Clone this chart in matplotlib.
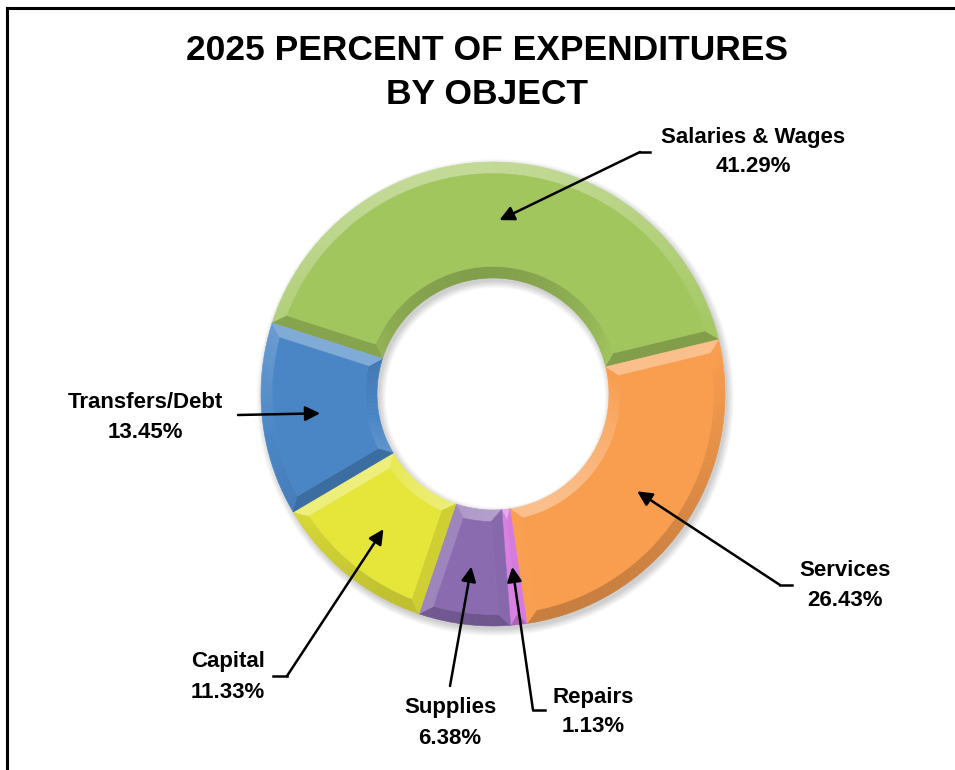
import numpy as np
import matplotlib.pyplot as plt
from matplotlib.collections import PolyCollection
from matplotlib.lines import Line2D
from matplotlib.colors import to_rgb

W, H = 955, 770

categories = ["Salaries & Wages", "Services", "Repairs", "Supplies", "Capital", "Transfers/Debt"]
percents = [41.29, 26.43, 1.13, 6.38, 11.33, 13.45]
colors = ["#A2C65E", "#F99D4E", "#D77BE0", "#8A6BB0", "#E6E63A", "#4A86C6"]

# label centre (x, first line y), arrow start and elbow, in pixels from top-left
label_pos = [(753, 137), (845, 570), (593, 697), (450, 708), (228, 662), (145, 403)]
arrow_from = [(650, 152), (792, 585), (545, 710), (450, 686), (273, 676), (238, 415)]
arrow_elbow = [(640, 152), (780, 585), (533, 710), None, (287, 676), None]

START = 162.2
R_OUT, R_IN, BEVEL = 1.0, 0.5, 0.05
LIGHT = np.array([-0.2, 1.0]) / np.hypot(0.2, 1.0)


def px(x, y):
    return x / W, 1 - y / H


def pt(rho, a):
    return [rho * np.cos(a), rho * np.sin(a)]


def shade(base, normal):
    f = float(np.dot(normal, LIGHT))
    base = np.array(base)
    if f > 0:
        return tuple(base + (1 - base) * 0.35 * f)
    return tuple(base * (1 + 0.2 * f))


def bevel_wedge(ax, t_lo, t_hi, color):
    base = to_rgb(color)
    ro, ri = R_OUT - BEVEL, R_IN + BEVEL
    half = (t_hi - t_lo) / 2
    do = min(np.arcsin(BEVEL / ro), half)
    di = min(np.arcsin(BEVEL / ri), half)
    polys, cols = [], []
    n = max(int(np.degrees(t_hi - t_lo) / 2), 2)
    a = np.linspace(t_lo, t_hi, n + 1)
    fo = np.linspace(t_lo + do, t_hi - do, n + 1)
    fi = np.linspace(t_lo + di, t_hi - di, n + 1)
    for k in range(n):
        mid = (a[k] + a[k + 1]) / 2
        nrm = np.array([np.cos(mid), np.sin(mid)])
        polys.append([pt(R_OUT, a[k]), pt(R_OUT, a[k + 1]), pt(ro, fo[k + 1]), pt(ro, fo[k])])
        cols.append(shade(base, nrm))
        polys.append([pt(R_IN, a[k]), pt(R_IN, a[k + 1]), pt(ri, fi[k + 1]), pt(ri, fi[k])])
        cols.append(shade(base, -nrm))
    polys.append([pt(R_OUT, t_lo), pt(ro, t_lo + do), pt(ri, t_lo + di), pt(R_IN, t_lo)])
    cols.append(shade(base, np.array([np.sin(t_lo), -np.cos(t_lo)])))
    polys.append([pt(R_OUT, t_hi), pt(ro, t_hi - do), pt(ri, t_hi - di), pt(R_IN, t_hi)])
    cols.append(shade(base, np.array([-np.sin(t_hi), np.cos(t_hi)])))
    face = [pt(ro, t) for t in fo] + [pt(ri, t) for t in fi[::-1]]
    polys.append(face)
    cols.append(base)
    ax.add_collection(PolyCollection(polys, facecolors=cols, edgecolors=cols, linewidths=0.4))


fig = plt.figure(figsize=(W / 100, H / 100), dpi=100)
plt.rcParams["font.family"] = ["Liberation Sans", "DejaVu Sans"]

cx, cy, rad = 493, 394, 232
half_px = rad * 1.1
ax = fig.add_axes([(cx - half_px) / W, (H - cy - half_px) / H, 2 * half_px / W, 2 * half_px / H])
ax.set_xlim(-1.1, 1.1)
ax.set_ylim(-1.1, 1.1)
ax.set_aspect("equal")
ax.axis("off")

# soft shadow under the ring
ring_t = np.linspace(0, 2 * np.pi, 300)
for i in range(8):
    s = 0.004 * i
    ax.fill(np.r_[(R_OUT + s) * np.cos(ring_t), (R_IN - s) * np.cos(ring_t[::-1])] + 0.01,
            np.r_[(R_OUT + s) * np.sin(ring_t), (R_IN - s) * np.sin(ring_t[::-1])] - 0.015,
            color="black", alpha=0.025, lw=0)

bounds = START - np.r_[0, np.cumsum(percents)] * 3.6
mids = []
for i, c in enumerate(colors):
    t_hi, t_lo = np.radians(bounds[i]), np.radians(bounds[i + 1])
    bevel_wedge(ax, t_lo, t_hi, c)
    mids.append((t_lo + t_hi) / 2)

for i, name in enumerate(categories):
    m = mids[i]
    tip = (0.75 * np.cos(m), 0.75 * np.sin(m))
    start = arrow_elbow[i] if arrow_elbow[i] else arrow_from[i]
    if arrow_elbow[i]:
        x0, y0 = px(*arrow_from[i])
        x1, y1 = px(*arrow_elbow[i])
        fig.add_artist(Line2D([x0, x1], [y0, y1], transform=fig.transFigure, color="black", lw=1.8))
    ax.annotate("", xy=tip, xycoords="data",
                xytext=px(*start), textcoords="figure fraction",
                arrowprops=dict(arrowstyle="-|>", color="black", lw=1.8, mutation_scale=22,
                                shrinkA=0, shrinkB=0))
    lx, ly = label_pos[i]
    fig.text(*px(lx, ly), name, ha="center", va="center", fontsize=16, fontweight="bold")
    fig.text(*px(lx, ly + 30), f"{percents[i]:.2f}%", ha="center", va="center",
             fontsize=16, fontweight="bold")

fig.text(*px(487, 50), "2025 PERCENT OF EXPENDITURES", ha="center", va="center",
         fontsize=25.5, fontweight="bold")
fig.text(*px(487, 95), "BY OBJECT", ha="center", va="center", fontsize=25.5, fontweight="bold")

# frame
fig.add_artist(Line2D([7 / W, 1], [1 - 8 / H, 1 - 8 / H], transform=fig.transFigure, color="black", lw=2.2))
fig.add_artist(Line2D([7 / W, 7 / W], [0, 1 - 8 / H], transform=fig.transFigure, color="black", lw=2.2))

fig.savefig("out.png", dpi=100, facecolor="white")
